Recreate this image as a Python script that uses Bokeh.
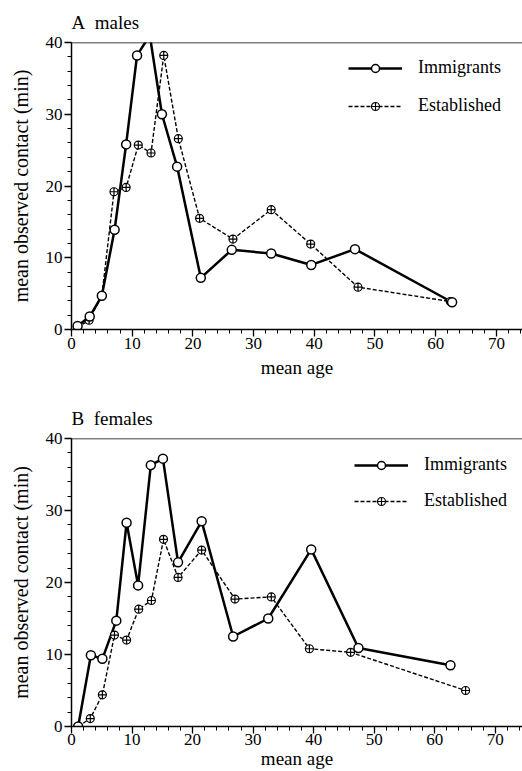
from bokeh.plotting import figure
from bokeh.models import Range1d, FixedTicker, Span, Legend, LegendItem
from bokeh.layouts import column
from bokeh.embed import file_html
from bokeh.resources import INLINE

# ---- data ----
males_imm_age = [1.0, 3.0, 5.0, 7.1, 9.0, 10.8, 12.9, 14.9, 17.4, 21.3, 26.4, 32.9, 39.5, 46.7, 62.7]
males_imm_contact = [0.5, 1.8, 4.7, 13.9, 25.8, 38.2, 41.0, 30.0, 22.7, 7.2, 11.1, 10.6, 9.0, 11.2, 3.8]
males_est_age = [1.0, 2.9, 5.0, 7.0, 9.0, 11.0, 13.1, 15.2, 17.6, 21.1, 26.6, 32.9, 39.4, 47.2, 62.4]
males_est_contact = [0.3, 1.3, 4.7, 19.2, 19.8, 25.7, 24.6, 38.2, 26.6, 15.5, 12.6, 16.7, 11.9, 5.9, 3.9]

females_imm_age = [1.1, 3.2, 5.1, 7.4, 9.1, 11.0, 13.1, 15.1, 17.6, 21.5, 26.7, 32.5, 39.6, 47.4, 62.6]
females_imm_contact = [0.0, 9.9, 9.4, 14.7, 28.3, 19.6, 36.3, 37.2, 22.8, 28.5, 12.5, 15.0, 24.6, 10.9, 8.5]
females_est_age = [1.1, 3.1, 5.1, 7.1, 9.1, 11.1, 13.2, 15.2, 17.6, 21.5, 27.0, 33.0, 39.3, 46.1, 65.1]
females_est_contact = [0.0, 1.1, 4.4, 12.7, 12.0, 16.3, 17.5, 26.0, 20.7, 24.5, 17.7, 18.0, 10.8, 10.3, 5.0]

x_major = [0, 10, 20, 30, 40, 50, 60, 70]
x_minor = list(range(0, 76, 2))
y_major = [0, 10, 20, 30, 40]
y_minor = list(range(0, 41, 2))
series_labels = ["Immigrants", "Established"]

FONT = "Liberation Serif"


def panel(title, ix, iy, ex, ey, x_end, border_left, border_top, border_bottom,
          height, legend_xy, legend_spacing, xlabel_standoff, xtick_standoff, title_standoff):
    p = figure(width=522, height=height, x_range=Range1d(0, x_end), y_range=Range1d(0, 40),
               output_backend="svg", toolbar_location=None,
               min_border_left=border_left, min_border_right=0,
               min_border_top=border_top, min_border_bottom=border_bottom)
    p.outline_line_color = None
    p.xgrid.visible = False
    p.ygrid.visible = False
    p.background_fill_color = "white"
    p.border_fill_color = "white"

    p.title.text = title
    p.title.text_font = FONT
    p.title.text_font_size = "19px"
    p.title.text_font_style = "normal"
    p.title.text_color = "black"
    p.title.align = "left"
    p.title.vertical_align = "top"
    p.title.standoff = title_standoff

    for ax in (p.xaxis[0], p.yaxis[0]):
        ax.axis_line_width = 1.5
        ax.axis_line_color = "black"
        ax.major_tick_line_width = 1.3
        ax.minor_tick_line_width = 1
        ax.major_tick_in = 0
        ax.minor_tick_in = 0
        ax.major_tick_out = 7
        ax.minor_tick_out = 4
        ax.major_label_text_font = FONT
        ax.major_label_text_color = "black"
        ax.axis_label_text_font = FONT
        ax.axis_label_text_font_style = "normal"
        ax.axis_label_text_color = "black"

    p.xaxis.ticker = FixedTicker(ticks=x_major, minor_ticks=x_minor)
    p.yaxis.ticker = FixedTicker(ticks=y_major, minor_ticks=y_minor)
    p.xaxis.axis_label = "mean age"
    p.yaxis.axis_label = "mean observed contact (min)"
    p.xaxis.major_label_text_font_size = "17px"
    p.yaxis.major_label_text_font_size = "17px"
    p.xaxis.axis_label_text_font_size = "19px"
    p.yaxis.axis_label_text_font_size = "20px"
    p.xaxis.major_label_standoff = xtick_standoff
    p.yaxis.major_label_standoff = 2
    p.xaxis.axis_label_standoff = xlabel_standoff
    p.yaxis.axis_label_standoff = 11

    p.add_layout(Span(location=40, dimension="width", line_color="black", line_width=1.5))

    est_line = p.line(ex, ey, line_color="black", line_width=1.4, line_dash="4 2")
    imm_line = p.line(ix, iy, line_color="black", line_width=2.5)
    est_pts = p.scatter(ex, ey, marker="circle_cross", size=8, fill_color="white",
                        line_color="black", line_width=1.2)
    imm_pts = p.scatter(ix, iy, marker="circle", size=9, fill_color="white",
                        line_color="black", line_width=1.5)

    legend = Legend(items=[LegendItem(label=series_labels[0], renderers=[imm_line, imm_pts]),
                           LegendItem(label=series_labels[1], renderers=[est_line, est_pts])],
                    location=legend_xy)
    legend.border_line_color = None
    legend.background_fill_alpha = 0
    legend.padding = 0
    legend.margin = 0
    legend.glyph_width = 54
    legend.glyph_height = 20
    legend.label_height = 20
    legend.spacing = legend_spacing
    legend.label_standoff = 16
    legend.label_text_font = FONT
    legend.label_text_font_size = "18px"
    legend.label_text_color = "black"
    p.add_layout(legend)
    return p


p1 = panel("A\u00a0 males", males_imm_age, males_imm_contact, males_est_age, males_est_contact,
           74.3, 71, 42, 56, 385, (277, 213), 17, 5, 1, 16)
p2 = panel("B\u00a0 females", females_imm_age, females_imm_contact, females_est_age, females_est_contact,
           74.5, 68, 53, 45, 386, (283, 215), 15, 0, 0, 16)

layout = column(p1, p2, spacing=0)
open("out.html", "w").write(file_html(layout, INLINE))
